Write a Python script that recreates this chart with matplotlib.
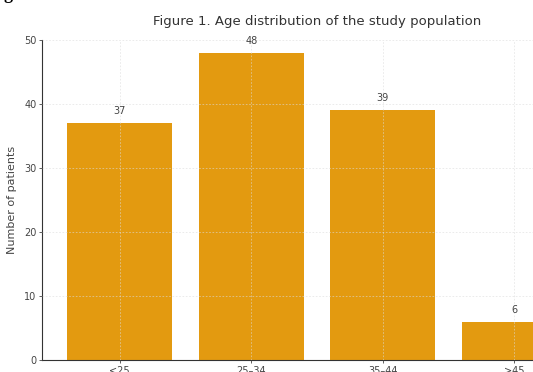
import matplotlib
matplotlib.use("Agg")
import matplotlib.pyplot as plt

# Age groups and patient counts
age_groups = ["<25", "25\u201334", "35\u201344", ">45"]
patients = [37, 48, 39, 6]
y_ticks = [0, 10, 20, 30, 40, 50]

W, H = 533, 372
fig = plt.figure(figsize=(W / 100, H / 100), dpi=100)
ax = fig.add_axes([42 / W, 12 / H, 550 / W, 320 / H])

bar_color = "#E39A10"
text_color = "#444444"

x = list(range(len(age_groups)))
ax.bar(x, patients, width=0.8, color=bar_color, zorder=1)

for xi, v in zip(x, patients):
    ax.annotate(str(v), (xi, v), xytext=(0, 5), textcoords="offset points",
                ha="center", va="bottom", fontsize=7, color=text_color)

ax.set_xticks(x)
ax.set_xticklabels(age_groups)
ax.set_yticks(y_ticks)
ax.set_xlim(-0.59, 3.59)
ax.set_ylim(0, 50)

ax.grid(True, linestyle=(0, (2, 2)), linewidth=0.6, color="#dcdcdc", alpha=0.65, zorder=2)
ax.set_axisbelow(False)

for side in ("top", "right"):
    ax.spines[side].set_visible(False)
for side in ("left", "bottom"):
    ax.spines[side].set_color("#333333")
    ax.spines[side].set_linewidth(0.8)

ax.tick_params(axis="both", labelsize=7, colors=text_color, length=2.5, width=0.6, pad=1.5)
ax.set_ylabel("Number of patients", fontsize=8, color=text_color, labelpad=5)
ax.set_title("Figure 1. Age distribution of the study population",
             fontsize=9.5, color="#333333", pad=11)

fig.text(4 / W, 1 - 3 / H, "g", family="Liberation Serif", fontweight="bold",
         fontsize=13, color="black", ha="left", va="bottom")

fig.savefig("out.png", dpi=100)
